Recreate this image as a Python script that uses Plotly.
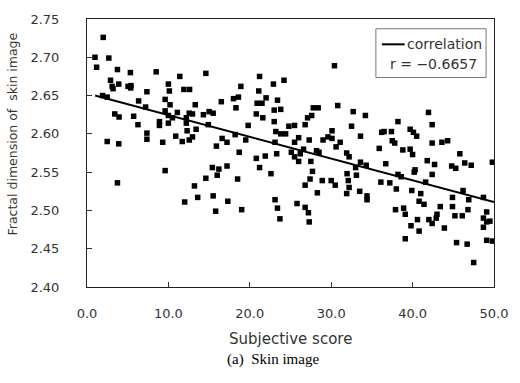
import plotly.graph_objects as go

# Subjective score (x) and fractal dimension (y)
score = [1.99, 0.98, 2.68, 1.18, 3.74, 5.33, 8.5, 11.4, 2.89, 3.09, 3.2, 3.9, 5.04, 5.4, 5.37,
         10.0, 10.12, 7.36, 1.91, 2.48, 6.34, 9.6, 10.2, 7.2, 9.6, 3.41, 3.94, 5.73, 10.0, 10.5,
         11.1, 6.26, 8.9, 8.9, 10.0, 10.9, 7.36, 7.36, 2.48, 3.9, 9.3,
         14.6, 11.9, 12.6, 13.3, 12.56, 12.96, 14.3, 15.0, 15.5, 12.2, 12.2, 13.4, 12.3, 14.9,
         11.7, 12.56, 12.96, 15.9, 16.6, 17.2, 16.5, 18.0, 18.6, 18.3, 18.9, 18.2, 19.5, 19.8,
         18.7, 21.2, 21.1, 20.9, 21.5, 22.0, 22.9, 23.4, 20.8, 21.6, 23.0, 23.8, 24.2, 23.0,
         23.2, 23.1, 23.8,
         30.4, 27.8, 28.4, 30.8, 32.7, 34.2, 27.1, 27.6, 24.8, 25.5, 26.8, 32.5, 24.4, 30.1,
         36.2, 33.6, 26.0, 25.5, 27.3, 29.0, 29.6, 30.1, 31.1, 30.6, 26.6, 28.2, 31.9, 35.9,
         25.1, 28.5,
         41.95, 38.2, 42.4, 36.5, 37.4, 39.7, 40.1, 40.5, 37.5, 37.8, 38.8, 39.7, 42.4, 43.6,
         44.3, 45.8,
         3.74, 9.6,
         20.8, 21.9, 23.3, 15.4, 16.2, 17.2, 16.0, 14.6, 18.5, 21.2, 22.6, 13.2, 13.6, 15.5,
         12.0, 17.3, 15.8, 19.0, 23.1, 23.4, 23.7,
         25.5, 26.2, 26.0, 27.5, 32.2, 33.6, 34.3, 33.0, 36.7, 27.7, 27.4, 26.8, 28.9, 30.0,
         30.5, 31.95, 33.1, 32.1, 32.2, 31.9, 33.5, 34.4, 34.4, 36.1, 28.3, 25.8, 26.8, 27.2,
         27.3,
         40.0, 41.8, 42.7, 40.3, 40.2, 42.4, 44.8, 45.3, 46.4, 47.2, 49.8, 38.2, 38.6, 37.2,
         38.0, 41.6, 39.9, 41.0, 40.8, 41.4, 46.2, 44.9, 46.9, 48.7, 37.9, 38.9, 39.1, 43.4,
         44.9, 46.8, 43.0, 42.9, 45.2, 46.1, 49.1, 42.0, 42.4, 48.7, 49.1, 49.5, 48.7, 40.6,
         39.8, 40.8, 43.9, 39.1, 45.4, 46.7, 49.1, 49.8, 47.5]

fractal = [2.726, 2.700, 2.699, 2.687, 2.684, 2.680, 2.681, 2.675, 2.670, 2.662, 2.659, 2.665,
           2.662, 2.663, 2.660, 2.665, 2.656, 2.655, 2.650, 2.648, 2.643, 2.645, 2.638, 2.635,
           2.630, 2.626, 2.622, 2.623, 2.624, 2.621, 2.628, 2.612, 2.616, 2.611, 2.614, 2.597,
           2.601, 2.593, 2.590, 2.587, 2.589,
           2.679, 2.658, 2.658, 2.638, 2.627, 2.626, 2.625, 2.629, 2.627, 2.621, 2.614, 2.606,
           2.604, 2.612, 2.590, 2.592, 2.596, 2.584, 2.594, 2.589, 2.642, 2.646, 2.648, 2.634,
           2.662, 2.599, 2.592, 2.611, 2.576, 2.675, 2.656, 2.640, 2.640, 2.647, 2.665, 2.644,
           2.626, 2.621, 2.631, 2.632, 2.670, 2.616, 2.603, 2.589, 2.600,
           2.689, 2.634, 2.634, 2.637, 2.629, 2.624, 2.621, 2.624, 2.610, 2.611, 2.612, 2.610,
           2.600, 2.604, 2.602, 2.597, 2.595, 2.589, 2.592, 2.592, 2.596, 2.594, 2.589, 2.583,
           2.580, 2.578, 2.575, 2.581, 2.576, 2.576,
           2.628, 2.616, 2.612, 2.603, 2.603, 2.606, 2.602, 2.597, 2.591, 2.588, 2.579, 2.580,
           2.588, 2.589, 2.591, 2.574,
           2.536, 2.552,
           2.568, 2.571, 2.574, 2.556, 2.554, 2.558, 2.546, 2.542, 2.541, 2.556, 2.548, 2.532,
           2.517, 2.519, 2.511, 2.512, 2.499, 2.501, 2.514, 2.503, 2.489,
           2.570, 2.574, 2.564, 2.564, 2.570, 2.563, 2.559, 2.556, 2.561, 2.551, 2.541, 2.533,
           2.539, 2.539, 2.533, 2.548, 2.546, 2.539, 2.530, 2.522, 2.525, 2.519, 2.514, 2.537,
           2.523, 2.509, 2.504, 2.497, 2.485,
           2.573, 2.565, 2.560, 2.553, 2.550, 2.547, 2.558, 2.555, 2.562, 2.559, 2.563, 2.547,
           2.544, 2.536, 2.528, 2.537, 2.526, 2.522, 2.512, 2.508, 2.526, 2.517, 2.514, 2.517,
           2.501, 2.503, 2.495, 2.505, 2.505, 2.501, 2.495, 2.490, 2.493, 2.493, 2.498, 2.488,
           2.483, 2.490, 2.485, 2.486, 2.478, 2.488, 2.480, 2.473, 2.477, 2.463, 2.458, 2.456,
           2.461, 2.460, 2.432]

# Regression line end points
line_x = [1.0, 50.0]
line_y = [2.650, 2.511]

x_ticks = [0, 10, 20, 30, 40, 50]
y_ticks = [2.40, 2.45, 2.50, 2.55, 2.60, 2.65, 2.70, 2.75]

fig = go.Figure()
fig.add_trace(go.Scatter(x=score, y=fractal, mode="markers",
                         marker=dict(symbol="square", size=5.5, color="black"),
                         showlegend=False))
fig.add_trace(go.Scatter(x=line_x, y=line_y, mode="lines",
                         line=dict(color="black", width=2), showlegend=False))

axis_font = dict(family="DejaVu Sans", size=13, color="#333")
fig.update_layout(
    width=520, height=383,
    margin=dict(l=87, r=23, t=12, b=96),
    paper_bgcolor="white", plot_bgcolor="white",
    showlegend=False,
    xaxis=dict(range=[0, 50], tickvals=x_ticks, tickformat=".1f",
               ticks="inside", ticklen=5, tickcolor="#333", tickfont=axis_font,
               showline=True, linecolor="#222", linewidth=1, mirror=True,
               showgrid=False, zeroline=False, ticklabelstandoff=14),
    yaxis=dict(range=[2.40, 2.75], tickvals=y_ticks, tickformat=".2f",
               ticks="inside", ticklen=5, tickcolor="#333", tickfont=axis_font,
               showline=True, linecolor="#222", linewidth=1, mirror=True,
               showgrid=False, zeroline=False, ticklabelstandoff=24),
)

# Legend box
fig.add_shape(type="rect", xref="paper", yref="paper",
              x0=0.7098, x1=0.9805, y0=0.7818, y1=0.9636,
              line=dict(color="#777", width=1), fillcolor="white", layer="above")
fig.add_shape(type="line", xref="paper", yref="paper",
              x0=0.7244, x1=0.7805, y0=0.9055, y1=0.9055,
              line=dict(color="black", width=2), layer="above")
fig.add_annotation(xref="paper", yref="paper", x=0.782, y=0.9055,
                   text="correlation", showarrow=False, xanchor="left", yanchor="middle",
                   font=dict(family="DejaVu Sans", size=14, color="#333"))
fig.add_annotation(xref="paper", yref="paper", x=0.7390, y=0.8316,
                   text="r = −0.6657", showarrow=False, xanchor="left", yanchor="middle",
                   font=dict(family="DejaVu Sans", size=14, color="#333"))

# Axis titles and caption
fig.add_annotation(xref="paper", yref="paper", x=-0.183, y=0.571,
                   text="Fractal dimension of  skin image", textangle=-90, showarrow=False,
                   xanchor="center", yanchor="middle",
                   font=dict(family="DejaVu Sans", size=12.5, color="#333"))
fig.add_annotation(xref="paper", yref="paper", x=0.5, y=-0.193,
                   text="Subjective score", showarrow=False,
                   xanchor="center", yanchor="middle",
                   font=dict(family="DejaVu Sans", size=15, color="#333"))
fig.add_annotation(xref="paper", yref="paper", x=0.456, y=-0.269,
                   text="(a)\u00a0\u00a0Skin image", showarrow=False,
                   xanchor="center", yanchor="middle",
                   font=dict(family="Liberation Serif", size=15, color="black"))

fig.write_html("out.html", config={"displayModeBar": False},
               post_script="document.body.style.margin='0';document.body.style.padding='0';")
